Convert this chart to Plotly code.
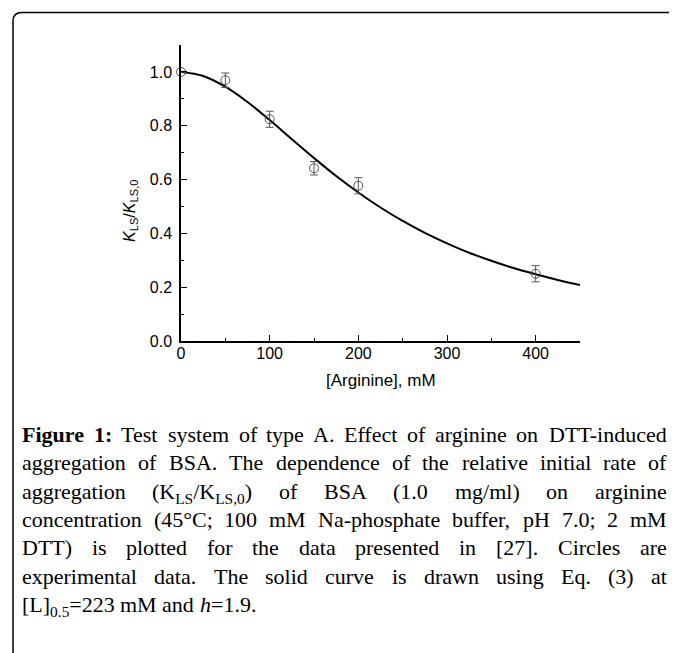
import re
import plotly.graph_objects as go

# ---------------- data ----------------
arginine_mM = [0, 50, 100, 150, 200, 400]
rel_rate = [1.000, 0.969, 0.824, 0.642, 0.577, 0.250]
rel_rate_err = [0.0, 0.027, 0.030, 0.025, 0.030, 0.030]

curve_x = [0, 25, 50, 75, 100, 125, 150, 175, 200, 225, 250, 275, 300, 325, 350, 375, 400, 425, 450]
curve_y = [1.000, 0.985, 0.945, 0.888, 0.821, 0.750, 0.680, 0.613, 0.552, 0.496, 0.446,
           0.402, 0.363, 0.328, 0.298, 0.271, 0.248, 0.227, 0.208]

x_tick_vals = [0, 100, 200, 300, 400]
y_tick_vals = [0.0, 0.2, 0.4, 0.6, 0.8, 1.0]

x_title = "[Arginine], mM"
y_title = "<i>K</i><sub>LS</sub>/<i>K</i><sub>LS,0</sub>"

caption_lines = [
    ["<b>Figure</b>", "<b>1:</b>", "Test", "system", "of", "type", "A.", "Effect", "of", "arginine", "on", "DTT-induced"],
    ["aggregation", "of", "BSA.", "The", "dependence", "of", "the", "relative", "initial", "rate", "of"],
    ["aggregation", "(K<sub>LS</sub>/K<sub>LS,0</sub>)", "of", "BSA", "(1.0", "mg/ml)", "on", "arginine"],
    ["concentration", "(45°C;", "100", "mM", "Na-phosphate", "buffer,", "pH", "7.0;", "2", "mM"],
    ["DTT)", "is", "plotted", "for", "the", "data", "presented", "in", "[27].", "Circles", "are"],
    ["experimental", "data.", "The", "solid", "curve", "is", "drawn", "using", "Eq.", "(3)", "at"],
    ["[L]<sub>0.5</sub>=223", "mM", "and", "<i>h</i>=1.9."],
]
caption_justified = [True, True, True, True, True, True, False]

# ---------------- layout geometry ----------------
# the page adds an 8px body margin, so reference pixel positions are shifted by OFF
OFF = 8
W, H = 677, 653
ML, MT = 181 - OFF, 45 - OFF
PW, PH = 399, 296
MR, MB = W - ML - PW, H - MT - PH


def px(x):
    return (x - OFF - ML) / PW


def py(y):
    return 1 - (y - OFF - MT) / PH


# Times / Liberation Serif metrics (per 1000 em)
REG = dict(zip("abcdefghijklmnopqrstuvwxyz",
               [444, 500, 444, 500, 444, 333, 500, 500, 278, 278, 500, 278, 778, 500, 500, 500, 500, 333, 389, 278,
                500, 500, 722, 500, 500, 444]))
REG.update(dict(zip("ABCDEFGHIJKLMNOPQRSTUVWXYZ",
                    [722, 667, 667, 722, 611, 556, 722, 722, 333, 389, 722, 611, 889, 722, 722, 556, 722, 667, 556, 611,
                     722, 722, 944, 722, 722, 611])))
REG.update({c: 500 for c in "0123456789"})
REG.update({" ": 250, ".": 250, ",": 250, ":": 278, ";": 278, "(": 333, ")": 333, "[": 333, "]": 333,
            "-": 333, "/": 278, "=": 564, "°": 400})
BOLD = dict(REG)
BOLD.update({"F": 611, "u": 556, "r": 444, "e": 444, "i": 278, "g": 500, "1": 500, ":": 333})


def word_width(html, fs):
    total = 0.0
    scale = 1.0
    bold = False
    for tok in re.split(r"(<[^>]+>)", html):
        if not tok:
            continue
        if tok.startswith("<"):
            t = tok.lower()
            if t == "<sub>":
                scale = 0.7
            elif t == "</sub>":
                scale = 1.0
            elif t == "<b>":
                bold = True
            elif t == "</b>":
                bold = False
            continue
        table = BOLD if bold else REG
        for ch in tok:
            total += table.get(ch, 500) * scale
    return total / 1000.0 * fs


CAP_FS = 22
CAP_FONT = dict(family="Liberation Serif", size=CAP_FS, color="black")
LEFT, RIGHT = 22, 667
BASE0, LSTEP = 441.5, 28.4

annotations = []
for i, words in enumerate(caption_lines):
    base = BASE0 + i * LSTEP
    ytop = base - 0.891 * CAP_FS
    widths = [word_width(w, CAP_FS) for w in words]
    if caption_justified[i]:
        gap = (RIGHT - LEFT - sum(widths)) / (len(words) - 1)
    else:
        gap = 0.25 * CAP_FS
    x = LEFT
    for j, (w, ww) in enumerate(zip(words, widths)):
        if caption_justified[i] and j == len(words) - 1:
            annotations.append(dict(text=w, x=px(RIGHT), y=py(ytop), xref="paper", yref="paper",
                                    xanchor="right", yanchor="top", showarrow=False, font=CAP_FONT,
                                    borderpad=0, borderwidth=0))
        else:
            annotations.append(dict(text=w, x=px(x), y=py(ytop), xref="paper", yref="paper",
                                    xanchor="left", yanchor="top", showarrow=False, font=CAP_FONT,
                                    borderpad=0, borderwidth=0))
        x += ww + gap

# axis titles
annotations.append(dict(text=x_title, x=px(380.5), y=py(380), xref="paper", yref="paper",
                        xanchor="center", yanchor="middle", showarrow=False,
                        font=dict(family="Liberation Sans", size=17, color="black")))
annotations.append(dict(text=y_title, x=px(130), y=py(211), xref="paper", yref="paper",
                        xanchor="center", yanchor="middle", showarrow=False, textangle=-90,
                        font=dict(family="Liberation Sans", size=16, color="black")))

# ---------------- figure ----------------
fig = go.Figure()
fig.add_trace(go.Scatter(x=curve_x, y=curve_y, mode="lines", line=dict(color="black", width=2, shape="spline"),
                         hoverinfo="skip", showlegend=False))
fig.add_trace(go.Scatter(x=arginine_mM, y=rel_rate, mode="markers",
                         marker=dict(symbol="circle-open", size=9, color="#555555", line=dict(width=1)),
                         error_y=dict(type="data", array=rel_rate_err, color="#555555", thickness=1, width=4),
                         cliponaxis=False, showlegend=False))

frame_path = "M {:.5f},{:.5f} L {:.5f},{:.5f} Q {:.5f},{:.5f} {:.5f},{:.5f} L {:.5f},{:.5f}".format(
    px(13), py(670), px(13), py(21), px(13), py(12.5), px(22), py(12.5), px(700), py(12.5))

axis_common = dict(ticks="inside", ticklen=6, tickwidth=1.2, tickcolor="black", showline=True,
                   linecolor="black", linewidth=1.5, showgrid=False, zeroline=False,
                   tickfont=dict(family="Liberation Sans", size=16, color="black"))

fig.update_layout(
    width=W, height=H,
    margin=dict(l=ML, r=MR, t=MT, b=MB, pad=0),
    paper_bgcolor="white", plot_bgcolor="white",
    showlegend=False,
    annotations=annotations,
    shapes=[dict(type="path", path=frame_path, xref="paper", yref="paper",
                 line=dict(color="black", width=1.5), layer="above")],
    xaxis=dict(range=[0, 450], tickvals=x_tick_vals, ticklabelstandoff=-3,
               minor=dict(dtick=50, ticks="inside", ticklen=3, tickwidth=1.2, tickcolor="black", showgrid=False),
               **axis_common),
    yaxis=dict(range=[0, 1.1], tickvals=y_tick_vals, tickformat=".1f", ticklabelstandoff=4,
               minor=dict(dtick=0.1, ticks="inside", ticklen=3, tickwidth=1.2, tickcolor="black", showgrid=False),
               **axis_common),
)

fig.write_html("out.html")
